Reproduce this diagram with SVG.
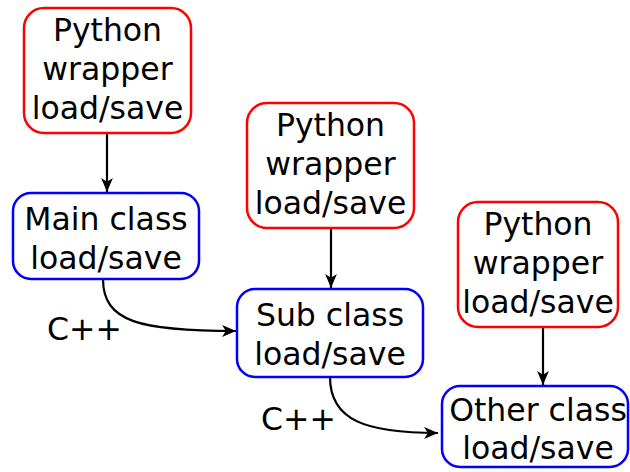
<svg xmlns="http://www.w3.org/2000/svg" width="630" height="472" viewBox="0 0 630 472">
  <style>
    .py { fill: #ffffff; stroke: #ff0000; stroke-width: 2.5; }
    .cls { fill: #ffffff; stroke: #0000ff; stroke-width: 2.5; }
    text { font-family: "DejaVu Sans", "Liberation Sans", sans-serif; font-size: 31.5px; fill: #000000; text-anchor: middle; }
    .lbl { text-anchor: start; }
    .edge { fill: none; stroke: #000000; stroke-width: 2.2; marker-end: url(#arr); }
  </style>
  <defs>
    <marker id="arr" markerUnits="userSpaceOnUse" viewBox="0 0 14 12" refX="13" refY="6" markerWidth="15" markerHeight="13" orient="auto">
      <path d="M0,0.5 L13,6 L0,11.5 L3.5,6 Z" fill="#000000"/>
    </marker>
  </defs>
  <rect width="630" height="472" fill="#ffffff"/>

  <g id="connectors">
    <path class="edge" d="M107,133 L107,192"/>
    <path class="edge" d="M331,228 L331,288"/>
    <path class="edge" d="M543,327 L543,385"/>
    <path class="edge" d="M103,279 C103,322 140,331 236,331"/>
    <path class="edge" d="M330,377 C330,420 365,433 438,433"/>
    <text class="lbl" x="47" y="340">C++</text>
    <text class="lbl" x="261" y="430">C++</text>
  </g>

  <g id="py1">
    <rect class="py" x="24" y="8" width="167" height="125" rx="20"/>
    <text x="107.5" y="41">Python</text>
    <text x="107.5" y="80">wrapper</text>
    <text x="107.5" y="119">load/save</text>
  </g>
  <g id="main">
    <rect class="cls" x="13" y="193" width="186" height="86" rx="18"/>
    <text x="106" y="230">Main class</text>
    <text x="106" y="269">load/save</text>
  </g>
  <g id="py2">
    <rect class="py" x="247" y="103" width="167" height="125" rx="20"/>
    <text x="330.5" y="136">Python</text>
    <text x="330.5" y="175">wrapper</text>
    <text x="330.5" y="214">load/save</text>
  </g>
  <g id="sub">
    <rect class="cls" x="237" y="289" width="186" height="88" rx="18"/>
    <text x="330" y="326">Sub class</text>
    <text x="330" y="365">load/save</text>
  </g>
  <g id="py3">
    <rect class="py" x="458" y="202" width="160" height="125" rx="20"/>
    <text x="538" y="235">Python</text>
    <text x="538" y="274">wrapper</text>
    <text x="538" y="313">load/save</text>
  </g>
  <g id="other">
    <rect class="cls" x="442" y="386" width="186" height="81" rx="18"/>
    <text x="538" y="421">Other class</text>
    <text x="538" y="459">load/save</text>
  </g>
</svg>
